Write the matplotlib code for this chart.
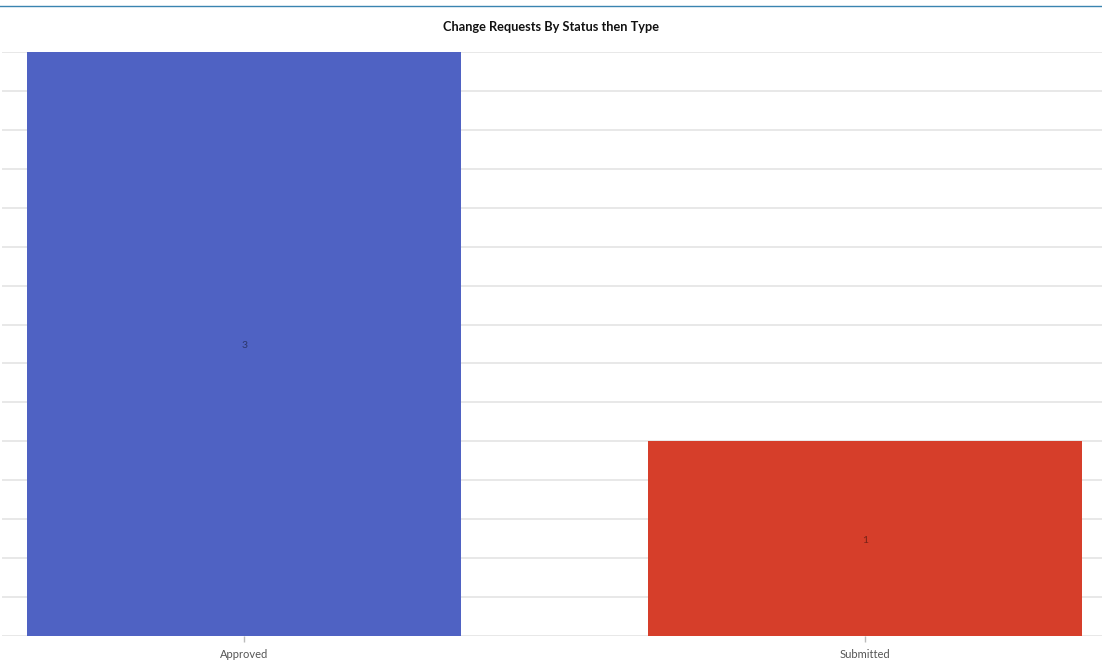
import matplotlib
matplotlib.use("Agg")
import matplotlib.pyplot as plt
from matplotlib.lines import Line2D

categories = ["Approved", "Submitted"]
values = [3, 1]
colors = ["#4F62C3", "#D63E2A"]
title = "Change Requests By Status then Type"

plt.rcParams['font.family'] = ['Lato', 'DejaVu Sans']

fig = plt.figure(figsize=(11.02, 6.64), dpi=100)
ax = fig.add_axes([2/1102, 28/664, 1100/1102, 584/664])

x = list(range(len(categories)))
bars = ax.bar(x, values, width=0.7, color=colors, zorder=2)
for xi, v in zip(x, values):
    ax.text(xi, v / 2 - 0.01, str(v), ha='center', va='center', fontsize=7.5,
            color='black', alpha=0.45, zorder=3)

ax.set_xlim(-0.39, 1.382)
ax.set_ylim(0, 3)
yt = [i * 0.2 for i in range(16)]
ax.set_yticks(yt)
ax.yaxis.grid(True, color='#e8e8e8', linewidth=1.4, zorder=0)
ax.tick_params(axis='y', left=False, labelleft=False)
ax.set_xticks(x)
ax.set_xticklabels(categories, fontsize=8, color='#555555')
ax.tick_params(axis='x', length=4, color='#bbbbbb', width=1, pad=5.5)
for s in ax.spines.values():
    s.set_visible(False)

fig.text(0.5, 1 - 27/664, title, ha='center', va='center', fontsize=9.2,
         fontweight='bold', color='#111111')
fig.add_artist(Line2D([0, 1], [1 - 5.5/664, 1 - 5.5/664], color='#3a84b0',
                      linewidth=1.0, transform=fig.transFigure))

fig.savefig("out.png", dpi=100)
